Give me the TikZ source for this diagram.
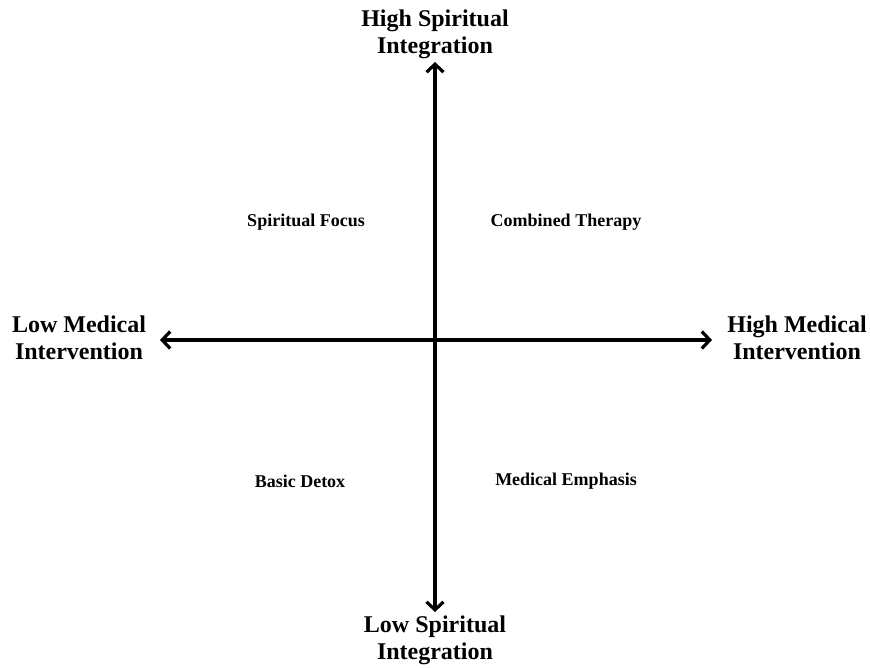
\documentclass[tikz,border=0pt]{standalone}
\usepackage{fontspec}
\setmainfont{Liberation Serif}
\usetikzlibrary{arrows.meta}

\begin{document}
\begin{tikzpicture}[x=1pt,y=-1pt,
  axis/.style={line width=3.6pt,{Straight Barb[length=8pt,width=17pt,line width=3.2pt]}-{Straight Barb[length=8pt,width=17pt,line width=3.2pt]}},
  pole/.style={align=center,font=\bfseries\fontsize{24}{27}\selectfont,inner sep=0pt},
  quad/.style={font=\bfseries\fontsize{18}{20}\selectfont,inner sep=0pt}]
  \useasboundingbox (0,0) rectangle (870,667);

  % axes
  \coordinate (O) at (435,340);
  \coordinate (L) at (160,340); \coordinate (R) at (712,340);
  \coordinate (T) at (435,62);  \coordinate (B) at (435,612);
  \draw[axis] (L) -- (R);
  \draw[axis] (B) -- (T);

  % poles
  \node[pole] (hispi) at (435,34) {High Spiritual\\Integration};
  \node[pole] (lospi) at (435,640) {Low Spiritual\\Integration};
  \node[pole] (lomed) at (79,338) {Low Medical\\Intervention};
  \node[pole] (himed) at (797,338) {High Medical\\Intervention};

  % quadrants
  \node[quad] (spifoc) at (306,222) {Spiritual Focus};
  \node[quad] (comb) at (566,222) {Combined Therapy};
  \node[quad] (detox) at (300,481) {Basic Detox};
  \node[quad] (medemph) at (566,481) {Medical Emphasis};
\end{tikzpicture}
\end{document}
